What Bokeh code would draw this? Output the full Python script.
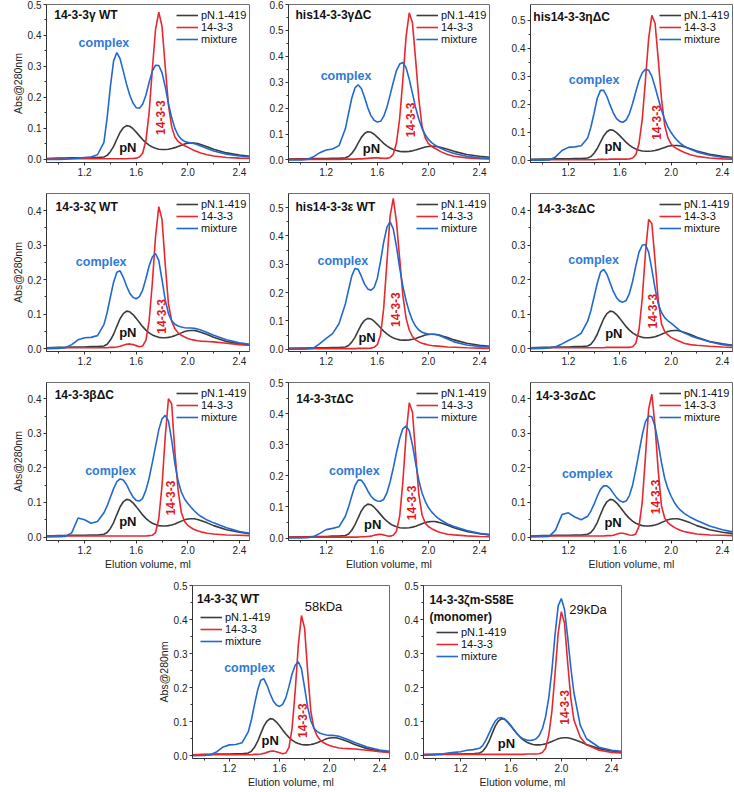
from bokeh.plotting import figure
from bokeh.models import Label, Legend, LegendItem, FixedTicker, Range1d, Spacer, PrintfTickFormatter
from bokeh.layouts import column, row
from bokeh.core.properties import value
from bokeh.embed import file_html
from bokeh.resources import INLINE

# ---------------- data ----------------
elution_ml = [0.90, 1.00, 1.05, 1.10, 1.15, 1.20, 1.25, 1.30,
              1.35, 1.375, 1.40, 1.425, 1.45, 1.475, 1.50, 1.525, 1.55, 1.575,
              1.60, 1.625, 1.65, 1.675, 1.70, 1.725, 1.75, 1.775, 1.80, 1.825,
              1.85, 1.875, 1.90, 1.925, 1.95, 1.975, 2.00, 2.025, 2.05, 2.075,
              2.10, 2.15, 2.20, 2.30, 2.40, 2.48]

pN_1_419 = [.003, .004, .004, .005, .005, .005, .006, .006,
            .008, .013, .025, .042, .065, .087, .102, .109, .107, .099,
            .088, .076, .064, .054, .046, .040, .036, .033, .032, .032,
            .033, .035, .038, .042, .046, .050, .052, .053, .053, .051,
            .048, .041, .033, .021, .014, .010]

red_gamma_wt = [.002, .002, .002, .002, .002, .002, .002, .002,
                .002, .002, .002, .002, .002, .002, .002, .002, .003, .003,
                .004, .008, .020, .060, .150, .290, .420, .475, .430, .300,
                .175, .105, .072, .058, .050, .044, .039, .034, .029, .025,
                .021, .015, .011, .006, .004, .003]
mix_gamma_wt = [.000, .000, .001, .002, .004, .006, .008, .015,
                .055, .135, .235, .318, .345, .325, .285, .243, .208, .182,
                .167, .165, .178, .207, .248, .285, .304, .303, .280, .235,
                .180, .135, .100, .078, .065, .058, .055, .053, .051, .047,
                .043, .035, .027, .017, .011, .008]

red_his_gamma_dc = [.002, .002, .002, .002, .002, .002, .002, .002,
                    .003, .003, .003, .003, .004, .004, .005, .006, .007, .008,
                    .008, .007, .006, .006, .009, .022, .065, .160, .310, .475,
                    .568, .530, .385, .235, .130, .085, .063, .052, .045, .038,
                    .031, .021, .014, .008, .005, .004]
mix_his_gamma_dc = [.000, .000, .002, .012, .028, .038, .042, .055,
                    .120, .180, .238, .278, .290, .276, .242, .202, .171, .153,
                    .146, .149, .168, .203, .250, .300, .345, .370, .376, .356,
                    .312, .257, .202, .157, .122, .097, .079, .067, .058, .050,
                    .044, .033, .025, .014, .008, .006]

red_his_eta_dc = [.002, .002, .002, .002, .002, .002, .002, .002,
                  .002, .002, .002, .003, .003, .003, .003, .004, .004, .004,
                  .004, .004, .004, .005, .008, .020, .060, .145, .285, .435,
                  .518, .490, .360, .220, .125, .080, .058, .047, .040, .034,
                  .029, .020, .014, .008, .005, .004]
mix_his_eta_dc = [.000, .000, .001, .012, .035, .046, .048, .052,
                  .080, .118, .168, .222, .250, .250, .228, .197, .169, .149,
                  .139, .136, .144, .166, .203, .245, .285, .313, .325, .322,
                  .300, .262, .220, .180, .146, .119, .099, .083, .070, .059,
                  .051, .039, .030, .018, .011, .008]

red_zeta_wt = [.003, .003, .003, .003, .003, .003, .003, .003,
               .003, .003, .004, .004, .005, .007, .010, .013, .014, .012,
               .009, .006, .008, .024, .080, .190, .325, .412, .375, .245,
               .130, .080, .058, .046, .039, .034, .030, .027, .025, .023,
               .022, .021, .020, .016, .012, .010]
mix_zeta_wt = [.000, .001, .003, .012, .026, .032, .033, .038,
               .070, .105, .150, .193, .222, .226, .207, .182, .161, .149,
               .145, .151, .170, .203, .240, .266, .276, .256, .200, .142,
               .102, .081, .071, .066, .063, .061, .060, .060, .059, .057,
               .054, .047, .039, .026, .017, .013]

red_his_eps_wt = [.002, .002, .002, .002, .002, .002, .002, .002,
                  .002, .002, .002, .002, .003, .003, .003, .003, .004, .007,
                  .016, .050, .145, .305, .470, .533, .450, .320, .190, .110,
                  .068, .045, .033, .026, .021, .018, .015, .013, .012, .011,
                  .010, .008, .007, .005, .004, .003]
mix_his_eps_wt = [.000, .000, .001, .004, .020, .038, .055, .090,
                  .160, .210, .258, .285, .282, .258, .230, .213, .208, .218,
                  .250, .310, .378, .430, .450, .425, .362, .287, .222, .172,
                  .132, .102, .081, .068, .060, .056, .054, .053, .052, .050,
                  .046, .036, .026, .015, .010, .008]

red_eps_dc = [.003, .003, .003, .003, .003, .003, .003, .003,
              .003, .003, .003, .003, .003, .003, .004, .004, .004, .004,
              .004, .004, .004, .004, .006, .016, .055, .145, .277, .375,
              .363, .255, .140, .072, .050, .040, .033, .028, .024, .020,
              .016, .012, .010, .007, .005, .004]
mix_eps_dc = [.000, .001, .002, .006, .014, .024, .033, .045,
              .080, .110, .150, .190, .222, .230, .216, .191, .166, .148,
              .138, .135, .140, .160, .195, .240, .280, .300, .302, .280,
              .230, .175, .130, .105, .090, .081, .074, .066, .058, .051,
              .046, .038, .031, .020, .012, .009]

red_beta_dc = [.003, .003, .003, .003, .003, .003, .003, .003,
               .003, .003, .003, .003, .003, .003, .003, .003, .003, .003,
               .003, .003, .003, .003, .004, .005, .013, .053, .148, .290,
               .400, .385, .245, .135, .070, .045, .034, .027, .022, .018,
               .015, .011, .009, .006, .005, .004]
mix_beta_dc = [.000, .001, .002, .012, .055, .050, .040, .045,
               .070, .090, .115, .140, .160, .168, .165, .152, .133, .116,
               .106, .104, .112, .135, .170, .215, .262, .310, .342, .352,
               .335, .280, .212, .162, .130, .110, .097, .086, .076, .067,
               .060, .049, .041, .027, .016, .011]

red_tau_dc = [.003, .003, .003, .003, .003, .003, .003, .003,
              .003, .003, .003, .003, .003, .004, .004, .005, .006, .009,
              .011, .012, .010, .007, .006, .009, .022, .070, .180, .330,
              .435, .405, .270, .140, .075, .048, .037, .030, .025, .020,
              .017, .012, .010, .007, .005, .004]
mix_tau_dc = [.000, .000, .001, .004, .015, .027, .031, .036,
              .070, .100, .135, .168, .186, .186, .172, .152, .135, .124,
              .119, .118, .124, .145, .180, .225, .275, .320, .352, .360,
              .345, .300, .240, .185, .145, .118, .098, .084, .073, .064,
              .057, .045, .037, .024, .015, .011]

red_sigma_dc = [.003, .003, .003, .003, .003, .003, .003, .003,
                .003, .003, .003, .003, .003, .003, .004, .004, .005, .008,
                .011, .011, .009, .006, .005, .009, .031, .100, .232, .370,
                .413, .320, .190, .090, .055, .042, .034, .028, .023, .019,
                .016, .012, .009, .006, .005, .004]
mix_sigma_dc = [.000, .001, .002, .020, .065, .070, .058, .050,
                .060, .075, .095, .118, .138, .148, .148, .140, .127, .114,
                .105, .101, .104, .120, .150, .195, .245, .295, .333, .350,
                .348, .320, .270, .215, .170, .140, .118, .100, .087, .077,
                .069, .057, .048, .032, .021, .015]

red_zeta_s58e = [.004, .004, .004, .004, .004, .004, .004, .004,
                 .004, .004, .004, .004, .004, .004, .004, .004, .004, .004,
                 .004, .004, .004, .004, .004, .005, .005, .005, .005, .006,
                 .010, .022, .060, .130, .240, .360, .423, .390, .275, .170,
                 .105, .055, .032, .016, .010, .008]
mix_zeta_s58e = [.001, .003, .005, .008, .010, .012, .016, .018,
                 .022, .030, .045, .065, .085, .102, .111, .112, .108, .098,
                 .087, .075, .064, .055, .049, .046, .045, .046, .050, .060,
                 .080, .115, .170, .250, .355, .440, .462, .430, .350, .260,
                 .185, .090, .050, .025, .016, .013]

series_names = ["pN.1-419", "14-3-3", "mixture"]
x_major_ticks = [1.2, 1.6, 2.0, 2.4]
x_minor_ticks = [1.0, 1.4, 1.8, 2.2]

for arr in [pN_1_419, red_gamma_wt, mix_gamma_wt, red_his_gamma_dc, mix_his_gamma_dc,
            red_his_eta_dc, mix_his_eta_dc, red_zeta_wt, mix_zeta_wt, red_his_eps_wt,
            mix_his_eps_wt, red_eps_dc, mix_eps_dc, red_beta_dc, mix_beta_dc, red_tau_dc,
            mix_tau_dc, red_sigma_dc, mix_sigma_dc, red_zeta_s58e, mix_zeta_s58e]:
    assert len(arr) == len(elution_ml), len(arr)

# ---------------- styles ----------------
FONT = "Liberation Sans"
LINE_BLACK = "#3c3c3c"
LINE_RED = "#e8282e"
LINE_BLUE = "#2169cf"
TEXT_BLUE = "#2f7ad6"
TEXT_RED = "#e3161e"


def make_panel(cfg, w, h, L, R, T, B, legend_loc, ylabel=False, xlabel=False):
    p = figure(width=L + w + R, height=T + h + B,
               x_range=Range1d(0.905, 2.478), y_range=Range1d(*cfg["yr"]),
               output_backend="svg", toolbar_location=None,
               min_border_left=L, min_border_right=R,
               min_border_top=T, min_border_bottom=B)
    p.background_fill_color = "white"
    p.border_fill_color = "white"
    p.outline_line_color = "#6e6e6e"
    p.outline_line_width = 1
    p.grid.visible = False

    ntick = int(round(cfg["ytop"] * 10))
    yt = [round(0.1 * i, 1) for i in range(ntick + 1)]
    ym = [round(0.05 + 0.1 * i, 2) for i in range(ntick)]
    p.xaxis.ticker = FixedTicker(ticks=x_major_ticks, minor_ticks=x_minor_ticks)
    p.yaxis.ticker = FixedTicker(ticks=yt, minor_ticks=ym)
    p.xaxis.formatter = PrintfTickFormatter(format="%.1f")
    p.yaxis.formatter = PrintfTickFormatter(format="%.1f")
    for ax in (p.xaxis[0], p.yaxis[0]):
        ax.major_tick_in = 0
        ax.major_tick_out = 3
        ax.minor_tick_in = 0
        ax.minor_tick_out = 2
        ax.axis_line_color = "#333333"
        ax.major_tick_line_color = "#333333"
        ax.minor_tick_line_color = "#333333"
        ax.major_label_text_font = FONT
        ax.major_label_text_font_size = "10px"
        ax.major_label_text_color = "#222222"
        ax.major_label_standoff = 2
        ax.axis_label_text_font = FONT
        ax.axis_label_text_font_size = "10.5px"
        ax.axis_label_text_font_style = "normal"
        ax.axis_label_text_color = "#222222"
        ax.axis_label_standoff = 1
    if ylabel:
        p.yaxis.axis_label = "Abs@280nm"
    if xlabel:
        p.xaxis.axis_label = "Elution volume, ml"

    r1 = p.line(elution_ml, pN_1_419, line_color=LINE_BLACK, line_width=1.6)
    r2 = p.line(elution_ml, cfg["red"], line_color=LINE_RED, line_width=1.6)
    r3 = p.line(elution_ml, cfg["mix"], line_color=LINE_BLUE, line_width=1.6)

    leg = Legend(items=[LegendItem(label=value(series_names[0]), renderers=[r1]),
                        LegendItem(label=value(series_names[1]), renderers=[r2]),
                        LegendItem(label=value(series_names[2]), renderers=[r3])],
                 location=legend_loc)
    leg.label_text_font = FONT
    leg.label_text_font_size = "11px"
    leg.label_text_color = "#111111"
    leg.glyph_width = 22
    leg.glyph_height = 12
    leg.label_height = 12
    leg.label_standoff = 3
    leg.spacing = 0
    leg.padding = 2
    leg.margin = 0
    leg.border_line_alpha = 0
    leg.background_fill_alpha = 0
    p.add_layout(leg)

    for k, line in enumerate(cfg["title"]):
        tx, ty = cfg["t"][k]
        p.add_layout(Label(x=tx, y=ty, text=line, text_font=FONT, text_font_style="bold",
                           text_font_size="12px", text_color="#111111",
                           text_baseline="middle", text_align="left"))
    if cfg.get("c"):
        p.add_layout(Label(x=cfg["c"][0], y=cfg["c"][1], text="complex", text_font=FONT,
                           text_font_style="bold", text_font_size="12.5px", text_color=TEXT_BLUE,
                           text_baseline="middle", text_align="center"))
    p.add_layout(Label(x=cfg["n"][0], y=cfg["n"][1], text="pN", text_font=FONT,
                       text_font_style="bold", text_font_size="13px", text_color="#111111",
                       text_baseline="middle", text_align="center"))
    p.add_layout(Label(x=cfg["r"][0], y=cfg["r"][1], text="14-3-3", text_font=FONT,
                       text_font_style="bold", text_font_size="12px", text_color=TEXT_RED,
                       text_baseline="middle", text_align="center", angle=1.5708))
    if cfg.get("kda"):
        txt, kx, ky = cfg["kda"]
        p.add_layout(Label(x=kx, y=ky, text=txt, text_font=FONT, text_font_size="13px",
                           text_color="#111111", text_baseline="middle", text_align="center"))
    return p


panels_A = [
    dict(title=["14-3-3γ WT"], red=red_gamma_wt, mix=mix_gamma_wt, yr=(-0.01, 0.5), ytop=0.5,
         t=[(0.965, 0.465)], c=(1.35, 0.375), n=(1.535, 0.037), r=(1.79, 0.135)),
    dict(title=["his14-3-3γΔC"], red=red_his_gamma_dc, mix=mix_his_gamma_dc, yr=(-0.01, 0.6), ytop=0.6,
         t=[(0.96, 0.559)], c=(1.355, 0.325), n=(1.554, 0.043), r=(1.863, 0.154)),
    dict(title=["his14-3-3ηΔC"], red=red_his_eta_dc, mix=mix_his_eta_dc, yr=(-0.008, 0.557), ytop=0.5,
         t=[(0.927, 0.512)], c=(1.40, 0.287), n=(1.548, 0.048), r=(1.885, 0.135)),
    dict(title=["14-3-3ζ WT"], red=red_zeta_wt, mix=mix_zeta_wt, yr=(-0.008, 0.45), ytop=0.4,
         t=[(0.975, 0.41)], c=(1.329, 0.25), n=(1.535, 0.046), r=(1.799, 0.094)),
    dict(title=["his14-3-3ε WT"], red=red_his_eps_wt, mix=mix_his_eps_wt, yr=(-0.008, 0.55), ytop=0.5,
         t=[(0.96, 0.502)], c=(1.33, 0.312), n=(1.52, 0.041), r=(1.743, 0.14)),
    dict(title=["14-3-3εΔC"], red=red_eps_dc, mix=mix_eps_dc, yr=(-0.008, 0.45), ytop=0.4,
         t=[(0.959, 0.405)], c=(1.396, 0.258), n=(1.554, 0.044), r=(1.855, 0.109)),
    dict(title=["14-3-3βΔC"], red=red_beta_dc, mix=mix_beta_dc, yr=(-0.01, 0.447), ytop=0.4,
         t=[(0.968, 0.41)], c=(1.401, 0.192), n=(1.535, 0.044), r=(1.863, 0.113)),
    dict(title=["14-3-3τΔC"], red=red_tau_dc, mix=mix_tau_dc, yr=(-0.008, 0.5), ytop=0.5,
         t=[(0.966, 0.447)], c=(1.42, 0.214), n=(1.564, 0.042), r=(1.87, 0.113)),
    dict(title=["14-3-3σΔC"], red=red_sigma_dc, mix=mix_sigma_dc, yr=(-0.01, 0.447), ytop=0.4,
         t=[(0.946, 0.408)], c=(1.347, 0.181), n=(1.548, 0.042), r=(1.875, 0.116)),
]

# column geometry: (left border, frame width, right border)
col_geom = [(46, 203, 1), (38, 201, 1), (40, 202, 1)]
# row geometry: (top border, frame height, bottom border)
row_geom = [(4, 158, 27), (4, 158, 27), (4, 158, 41)]

figs = []
for i, cfg in enumerate(panels_A):
    ri, ci = divmod(i, 3)
    Lc, Wc, Rc = col_geom[ci]
    Tr, Hr, Br = row_geom[ri]
    fig = make_panel(cfg, Wc, Hr, Lc, Rc, Tr, Br, legend_loc=(Wc - 75, Hr - 43),
                     ylabel=(ci == 0), xlabel=(ri == 2))
    figs.append(fig)
figs[0].add_layout(Label(x=-45, y=row_geom[0][1] - 4, x_units="screen", y_units="screen", text="A",
                         text_font=FONT, text_font_style="bold", text_font_size="24px",
                         text_color="#000000", text_baseline="top", text_align="left"))

cfg_b1 = dict(title=["14-3-3ζ WT"], red=red_zeta_wt, mix=mix_zeta_wt, yr=(-0.008, 0.5), ytop=0.5,
              t=[(0.941, 0.461)], c=(1.36, 0.258), n=(1.525, 0.045), r=(1.78, 0.103),
              kda=("58kDa", 1.951, 0.439))
cfg_b2 = dict(title=["14-3-3ζm-S58E", "(monomer)"], red=red_zeta_s58e, mix=mix_zeta_s58e,
              yr=(-0.008, 0.5), ytop=0.5, t=[(0.952, 0.456), (0.952, 0.408)], c=None,
              n=(1.564, 0.036), r=(2.022, 0.142), kda=("29kDa", 2.212, 0.43))

HB = 173
b1 = make_panel(cfg_b1, 197, HB, 40, 1, 4, 33, legend_loc=(6, HB - 64), ylabel=True, xlabel=True)
b2 = make_panel(cfg_b2, 198, HB, 33, 1, 4, 33, legend_loc=(11, HB - 79), ylabel=False, xlabel=True)
b1.add_layout(Label(x=-40, y=HB - 2, x_units="screen", y_units="screen", text="B",
                    text_font=FONT, text_font_style="bold", text_font_size="24px",
                    text_color="#000000", text_baseline="top", text_align="left"))

layout = column(row(figs[0], figs[1], figs[2]),
                row(figs[3], figs[4], figs[5]),
                row(figs[6], figs[7], figs[8]),
                row(Spacer(width=152, height=HB + 37), b1, b2))

open("out.html", "w").write(file_html(layout, INLINE))
